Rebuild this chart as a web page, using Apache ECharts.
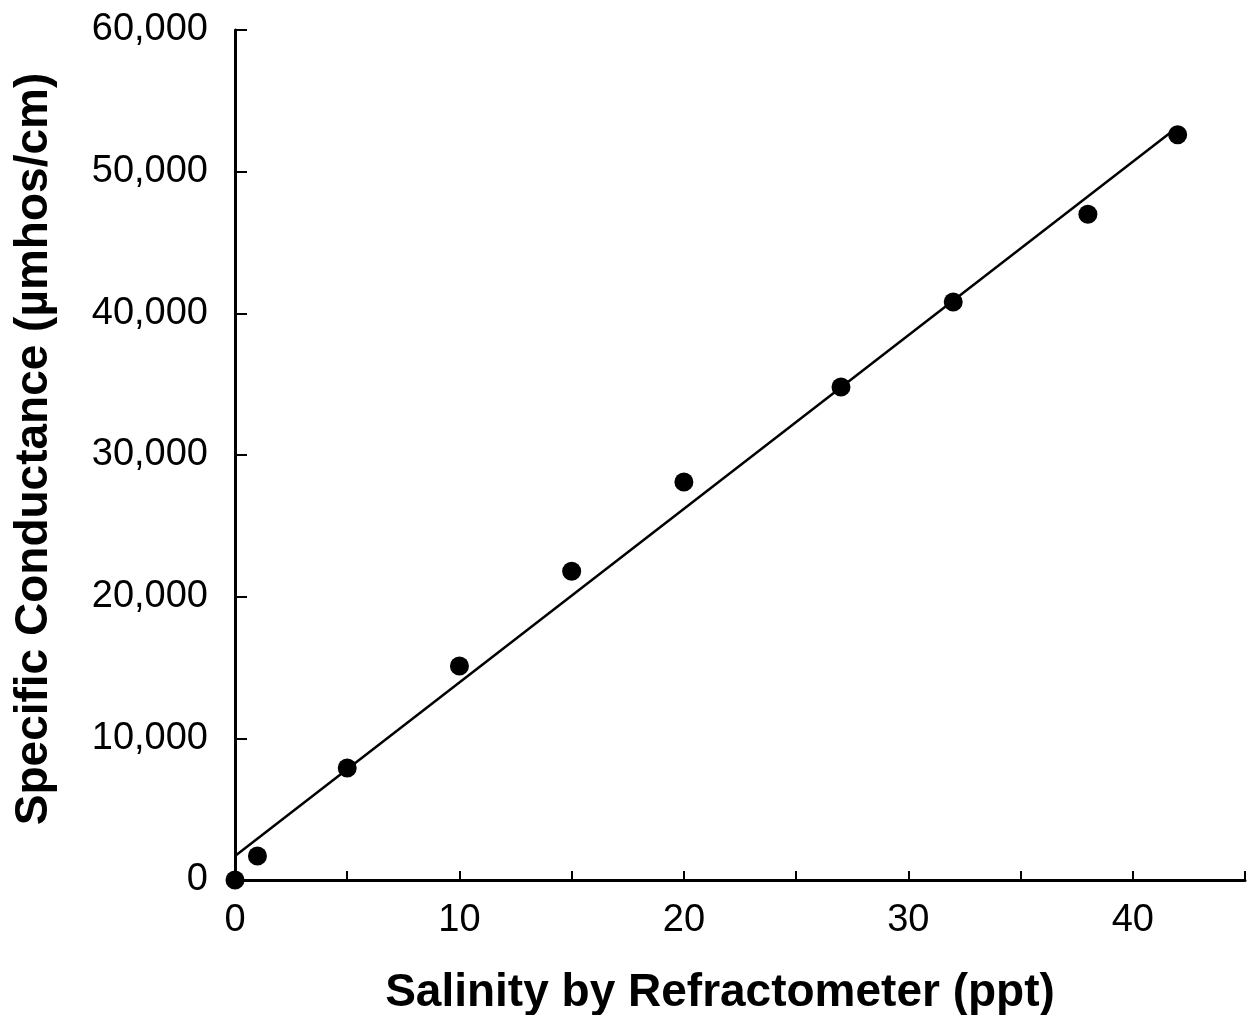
<!DOCTYPE html>
<html>
<head>
<meta charset="utf-8">
<script src="https://cdn.jsdelivr.net/npm/echarts@6/dist/echarts.min.js"></script>
<style>html,body{margin:0;padding:0;background:#fff;}#c{width:1249px;height:1015px;}</style>
</head>
<body>
<div id="c"></div>
<script>
var salinity = [0, 1, 5, 10, 15, 20, 27, 32, 38, 42];
var conductance = [0, 1700, 7900, 15100, 21800, 28100, 34800, 40800, 47000, 52600];
var xTicks = [0, 10, 20, 30, 40];
var yTicks = [0, 10000, 20000, 30000, 40000, 50000, 60000];

// least-squares trend line through the data
var n = salinity.length, mx = 0, my = 0;
for (var i = 0; i < n; i++) { mx += salinity[i]; my += conductance[i]; }
mx /= n; my /= n;
var sxx = 0, sxy = 0;
for (var i = 0; i < n; i++) { sxx += (salinity[i]-mx)*(salinity[i]-mx); sxy += (salinity[i]-mx)*(conductance[i]-my); }
var slope = sxy / sxx, icpt = my - slope*mx;
var xEnd = salinity[n-1];
var trend = [[0, icpt], [xEnd, icpt + slope*xEnd]];

var pts = salinity.map(function(x, i){ return [x, conductance[i]]; });

var chart = echarts.init(document.getElementById('c'));
chart.setOption({
  animation: false,
  backgroundColor: '#fff',
  grid: { left: 235, right: 4, top: 30, bottom: 135, containLabel: false, outerBoundsMode: 'none' },
  xAxis: {
    type: 'value', min: 0, max: 45, interval: 5,
    name: 'Salinity by Refractometer (ppt)',
    nameLocation: 'middle', nameGap: 90,
    nameTextStyle: { fontFamily: 'Liberation Sans, Arial', fontWeight: 'bold', fontSize: 46, color: '#000', padding: [0, 40, 0, 0] },
    axisLine: { lineStyle: { color: '#000', width: 3 } },
    axisTick: { inside: true, length: 9, lineStyle: { color: '#000', width: 2 } },
    axisLabel: { margin: 22, fontFamily: 'Liberation Sans, Arial', fontSize: 38, color: '#000',
      formatter: function(v){ return xTicks.indexOf(v) >= 0 ? String(v) : ''; } },
    splitLine: { show: false }
  },
  yAxis: {
    type: 'value', min: 0, max: 60000, interval: 10000,
    name: 'Specific Conductance (µmhos/cm)',
    nameLocation: 'middle', nameGap: 178, nameRotate: 90,
    nameTextStyle: { fontFamily: 'Liberation Sans, Arial', fontWeight: 'bold', fontSize: 46, color: '#000', padding: [0, 0, 0, 12] },
    axisLine: { show: true, lineStyle: { color: '#000', width: 3 } },
    axisTick: { show: true, inside: true, length: 12, lineStyle: { color: '#000', width: 2 } },
    axisLabel: { margin: 27, fontFamily: 'Liberation Sans, Arial', fontSize: 38, color: '#000',
      formatter: function(v){ return yTicks.indexOf(v) >= 0 ? v.toLocaleString('en-US') : ''; } },
    splitLine: { show: false }
  },
  series: [
    { type: 'line', data: trend, symbol: 'none', lineStyle: { color: '#000', width: 2.5 }, z: 2 },
    { type: 'scatter', data: pts, symbol: 'circle', symbolSize: 19, itemStyle: { color: '#000', opacity: 1 }, z: 3 }
  ]
});
</script>
</body>
</html>
